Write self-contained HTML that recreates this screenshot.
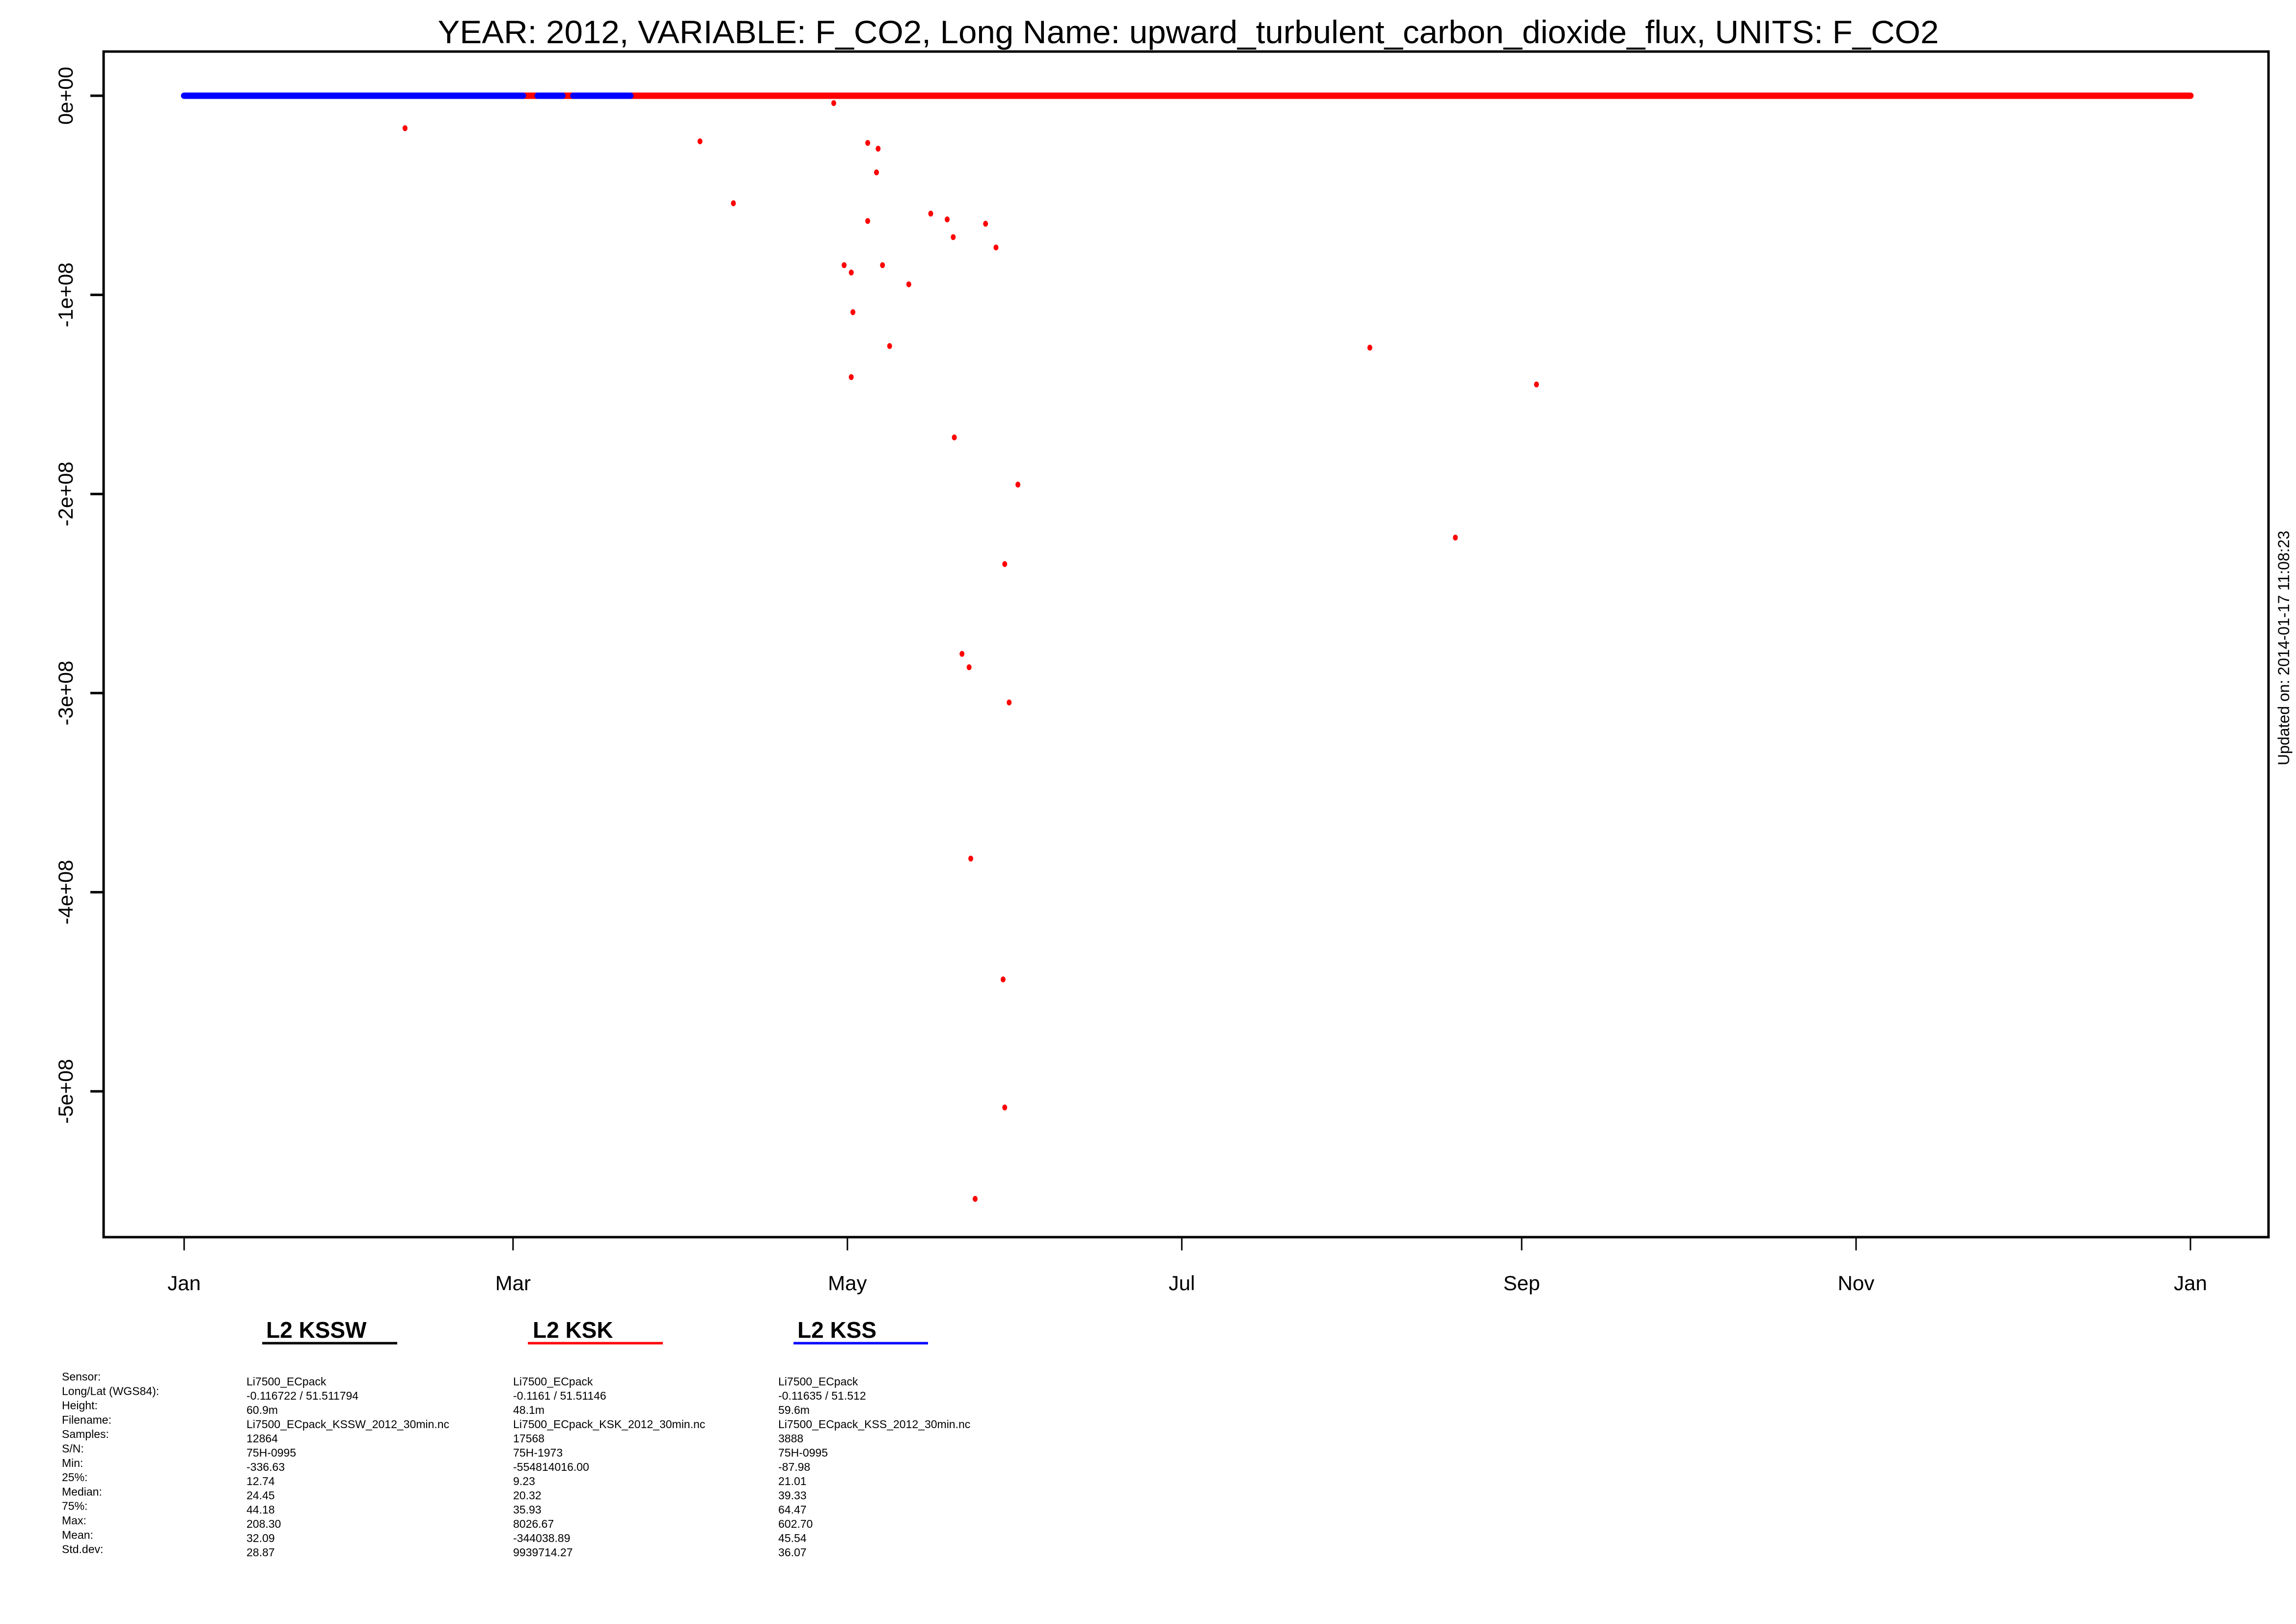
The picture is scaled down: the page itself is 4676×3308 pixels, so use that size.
<!DOCTYPE html>
<html><head><meta charset="utf-8"><style>
html,body{margin:0;padding:0;background:#fff;}
svg{display:block;font-family:"Liberation Sans",sans-serif;}
</style></head><body>
<svg id="chart" width="4676" height="3308" viewBox="0 0 4676 3308" xmlns="http://www.w3.org/2000/svg">
<text x="2420" y="88" font-size="66" text-anchor="middle" textLength="3057" lengthAdjust="spacingAndGlyphs">YEAR: 2012, VARIABLE: F_CO2, Long Name: upward_turbulent_carbon_dioxide_flux, UNITS: F_CO2</text>
<rect x="211" y="105" width="4409" height="2415" fill="none" stroke="#000" stroke-width="5"/>
<g id="yaxis"></g>
<g id="xaxis"></g>
<g id="series"></g>
<text transform="translate(4662,1320) rotate(-90)" font-size="32" text-anchor="middle">Updated on: 2014-01-17 11:08:23</text>
<g>
<text x="542" y="2725" font-size="46" font-weight="bold">L2 KSSW</text>
<line x1="534" y1="2736" x2="809" y2="2736" stroke="#000" stroke-width="5"/>
<text x="1085" y="2725" font-size="46" font-weight="bold">L2 KSK</text>
<line x1="1075" y1="2736" x2="1350" y2="2736" stroke="#f00" stroke-width="5"/>
<text x="1624" y="2725" font-size="46" font-weight="bold">L2 KSS</text>
<line x1="1616" y1="2736" x2="1890" y2="2736" stroke="#00f" stroke-width="5"/>
</g>
<g id="stats" font-size="23"></g>
</svg>
<script>
const monthLabels = ["Jan","Mar","May","Jul","Sep","Nov","Jan"];
const monthDays = [0,60,121,182,244,305,366];
const yTicks = [0,-1e8,-2e8,-3e8,-4e8,-5e8];
const yTickLabels = ["0e+00","-1e+08","-2e+08","-3e+08","-4e+08","-5e+08"];
const blueSegments = [[0,61.8],[64.5,69],[71,81.4]];
const redSegments = [[61.3,366]];
const outlierDays = [40.3,94.1,100.2,118.5,124.7,126.6,126.3,124.7,120.4,121.7,127.4,132.2,122.0,128.7,121.7,136.2,139.2,140.3,146.2,148.1,140.5,152.1,149.7,141.9,143.2,150.5,143.5,149.4,149.7,144.3,216.3,231.9,246.7];
const outlierValues = [-0.163e8,-0.229e8,-0.540e8,-0.037e8,-0.237e8,-0.266e8,-0.385e8,-0.629e8,-0.851e8,-0.888e8,-0.851e8,-0.947e8,-1.087e8,-1.257e8,-1.413e8,-0.592e8,-0.621e8,-0.710e8,-0.643e8,-0.762e8,-1.716e8,-1.953e8,-2.352e8,-2.803e8,-2.870e8,-3.047e8,-3.831e8,-4.438e8,-5.081e8,-5.540e8,-1.265e8,-2.219e8,-1.450e8];
const statLabels = ["Sensor:","Long/Lat (WGS84):","Height:","Filename:","Samples:","S/N:","Min:","25%:","Median:","75%:","Max:","Mean:","Std.dev:"];
const statsKSSW = ["Li7500_ECpack","-0.116722 / 51.511794","60.9m","Li7500_ECpack_KSSW_2012_30min.nc","12864","75H-0995","-336.63","12.74","24.45","44.18","208.30","32.09","28.87"];
const statsKSK = ["Li7500_ECpack","-0.1161 / 51.51146","48.1m","Li7500_ECpack_KSK_2012_30min.nc","17568","75H-1973","-554814016.00","9.23","20.32","35.93","8026.67","-344038.89","9939714.27"];
const statsKSS = ["Li7500_ECpack","-0.11635 / 51.512","59.6m","Li7500_ECpack_KSS_2012_30min.nc","3888","75H-0995","-87.98","21.01","39.33","64.47","602.70","45.54","36.07"];

const NS="http://www.w3.org/2000/svg";
function X(d){return 375+d*11.164;}
function Y(v){return 195-v/1e8*405.6;}
function mk(tag,attrs,parent){const e=document.createElementNS(NS,tag);for(const k in attrs)e.setAttribute(k,attrs[k]);parent.appendChild(e);return e;}

const ya=document.getElementById('yaxis');
yTicks.forEach((v,i)=>{
  const t=mk('line',{x1:184,x2:211,y1:Y(v),y2:Y(v),stroke:'#000','stroke-width':5},ya);
  
  
  const l=mk('text',{transform:`translate(148,${Y(v)}) rotate(-90)`,'font-size':42,'text-anchor':'middle'},ya);
  l.textContent=yTickLabels[i];
  
  
});
const xa=document.getElementById('xaxis');
monthDays.forEach((d,i)=>{
  const t=mk('line',{x1:X(d),x2:X(d),y1:2520,y2:2547,stroke:'#000','stroke-width':3},xa);
  
  
  const l=mk('text',{x:X(d),y:2628,'font-size':42,'text-anchor':'middle'},xa);
  l.textContent=monthLabels[i];
  
  
});
const sg=document.getElementById('series');
redSegments.forEach(s=>{
  const l=mk('line',{x1:X(s[0]),x2:X(s[1]),y1:Y(0),y2:Y(0),stroke:'#f00','stroke-width':13,'stroke-linecap':'round'},sg);
  
  
});
blueSegments.forEach(s=>{
  const l=mk('line',{x1:X(s[0]),x2:X(s[1]),y1:Y(0),y2:Y(0),stroke:'#00f','stroke-width':13,'stroke-linecap':'round'},sg);
  
  
});
outlierDays.forEach((d,i)=>{
  const c=mk('ellipse',{cx:X(d),cy:Y(outlierValues[i]),rx:5,ry:6,fill:'#f00'},sg);
  
  
});
const st=document.getElementById('stats');
statLabels.forEach((s,i)=>{
  const t=mk('text',{x:126,y:2812+i*29.3},st);t.textContent=s;
  
  
});
[[statsKSSW,502],[statsKSK,1045],[statsKSS,1585]].forEach(([arr,x])=>{
  arr.forEach((s,i)=>{
    const t=mk('text',{x:x,y:2822+i*29},st);t.textContent=s;
    
    
  });
});
</script>
</body></html>
